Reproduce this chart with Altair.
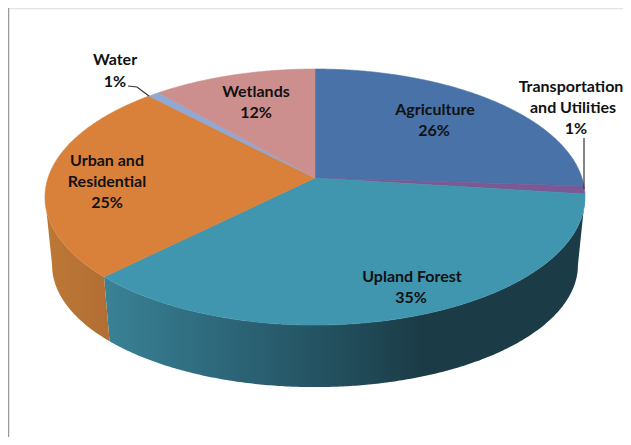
import math
import altair as alt

categories = ["Agriculture", "Transportation and Utilities", "Upland Forest",
              "Urban and Residential", "Water", "Wetlands"]
values = [26.0, 1.0, 35.5, 25.4, 0.8, 11.3]
colors = ["#4872A8", "#7A5A94", "#4095AF", "#D9813B", "#8FA8D4", "#CD8F8E"]

label_lines = [
    ("Agriculture", 435, 110), ("26%", 434, 131),
    ("Transportation", 571, 87), ("and Utilities", 573, 108), ("1%", 576, 129),
    ("Upland Forest", 412, 277), ("35%", 411, 298),
    ("Urban and", 107, 161), ("Residential", 107, 182), ("25%", 107, 203),
    ("Water", 115, 60), ("1%", 115, 82),
    ("Wetlands", 256, 92), ("12%", 256, 113),
]
leaders = [
    [(128, 86), (137, 87), (149, 96)],
    [(584, 138), (584, 189)],
]

M = 8
W, H = 615, 429
CX, CY = 315, 178
R = 267.0
K = 0.1486
S_TOP = 125.2 / R
R_BOT = 260.0 / R
S_BOT = 119.3 / R
DROP = 69.0 / R
SIL = math.degrees(math.acos(K))


def rim(deg, level):
    a = math.radians(deg)
    x, y = math.sin(a), math.cos(a)
    d = 1 + K * y
    if level == 0:
        return [x / d, S_TOP * y / d]
    return [R_BOT * x / d, S_BOT * y / d - DROP]


def arc(a0, a1, level):
    n = max(2, int(abs(a1 - a0) * 2))
    return [rim(a0 + (a1 - a0) * i / n, level) for i in range(n + 1)]


def feature(ring, color):
    return {"type": "Feature", "properties": {"color": color},
            "geometry": {"type": "Polygon", "coordinates": [ring + [ring[0]]]}}


bounds = [0.0]
for v in values:
    bounds.append(bounds[-1] + v * 360 / sum(values))

faces = [feature([[0, 0]] + arc(bounds[i], bounds[i + 1], 0), colors[i])
         for i in range(len(values))]

proj = dict(type="identity", scale=R, translate=[CX - M, CY - M], reflectY=True)


def wall(a0, a1, stops):
    ring = arc(a0, a1, 0) + arc(a1, a0, 1)
    grad = alt.LinearGradient(gradient="linear", x1=0, x2=1, y1=0, y2=0,
                              stops=[alt.GradientStop(offset=o, color=c) for o, c in stops])
    return alt.Chart(alt.Data(values=[feature(ring, "wall")])).mark_geoshape(
        fill=grad, strokeWidth=0).project(**proj)


wall_forest = wall(180 - SIL, bounds[3],
                   [(0, "#3A8296"), (0.2, "#2F6C7F"), (0.4, "#265868"),
                    (0.66, "#1B3C47"), (1, "#1B3C47")])
wall_urban = wall(bounds[3], 180 + SIL, [(0, "#BD7836"), (1, "#B26E33")])

top = alt.Chart(alt.Data(values=faces)).mark_geoshape(strokeWidth=0.6).encode(
    fill=alt.Color("properties.color:N", scale=None),
    stroke=alt.Color("properties.color:N", scale=None),
).project(**proj)

leader_rows = [{"id": i, "o": j, "px": p[0] - M, "py": p[1] - M}
               for i, line in enumerate(leaders) for j, p in enumerate(line)]
leader_layer = alt.Chart(alt.Data(values=leader_rows)).mark_line(
    color="#333333", strokeWidth=1.2).encode(
    x=alt.X("px:Q", scale=None), y=alt.Y("py:Q", scale=None),
    detail="id:N", order="o:Q")

text_rows = [{"t": t, "px": x - M, "py": y - M} for t, x, y in label_lines]
text_layer = alt.Chart(alt.Data(values=text_rows)).mark_text(
    font="Lato", fontWeight="bold", fontSize=16, color="#111111",
    align="center", baseline="middle").encode(
    x=alt.X("px:Q", scale=None), y=alt.Y("py:Q", scale=None), text="t:N")

border_top = alt.Chart(alt.Data(values=[{"a": 0}])).mark_rule(
    color="#E4E4E4", strokeWidth=1.5).encode(
    x=alt.value(0), x2=alt.value(W), y=alt.value(0.5))
border_left = alt.Chart(alt.Data(values=[{"a": 0}])).mark_rule(
    color="#999999", strokeWidth=1.5).encode(
    x=alt.value(0.5), y=alt.value(0), y2=alt.value(H))

chart = alt.layer(
    border_top, border_left, wall_forest, wall_urban, top, leader_layer, text_layer
).properties(
    width=W, height=H, padding=0, autosize="none", background="white"
).configure_view(stroke=None).resolve_scale(x="independent", y="independent")

chart.save("out.html", embed_options={"renderer": "svg", "actions": False})
